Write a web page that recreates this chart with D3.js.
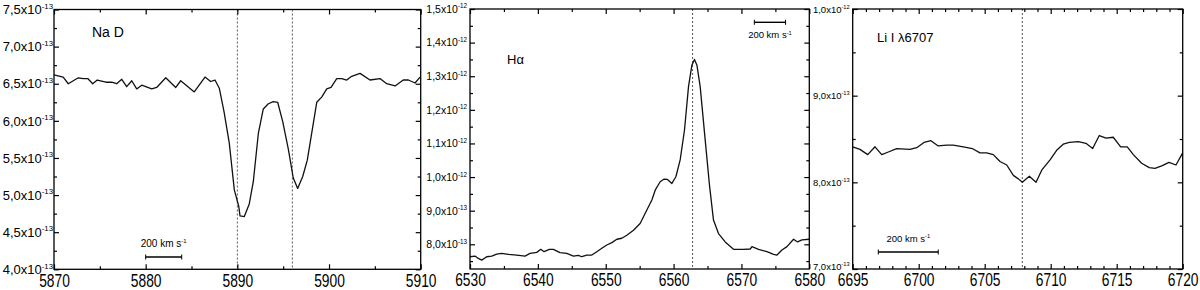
<!DOCTYPE html>
<html>
<head>
<meta charset="utf-8">
<script src="https://cdn.jsdelivr.net/npm/d3@7"></script>
<style>
  body { margin: 0; background: #fff; }
  svg { display: block; font-family: "Liberation Sans", Arial, sans-serif; }
</style>
</head>
<body>
<svg id="chart" width="1200" height="290"></svg>
<script>
// flux values are in units of 1e-13 (as on the y labels)

// Na D panel
const naWave = [5870.0, 5871.0, 5871.56, 5872.65, 5873.2, 5873.68, 5874.22, 5874.72, 5875.67, 5876.29,
  5876.84, 5877.39, 5877.93, 5878.48, 5879.02, 5879.57, 5880.66, 5881.2, 5882.19, 5883.28,
  5883.82, 5885.3, 5886.47, 5887.09, 5887.56, 5888.03, 5888.55, 5889.12, 5889.67, 5890.15,
  5890.29, 5890.76, 5891.3, 5891.74, 5892.29, 5892.83, 5893.38, 5893.92, 5894.4, 5894.95,
  5895.56, 5896.1, 5896.58, 5897.13, 5897.63, 5898.66, 5899.2, 5899.75, 5900.22, 5900.84,
  5901.38, 5901.93, 5902.47, 5903.38, 5904.47, 5905.56, 5906.29, 5907.2, 5908.1, 5908.65,
  5909.38, 5909.93];
const naFlux = [6.62, 6.59, 6.50, 6.58, 6.57, 6.57, 6.50, 6.55, 6.52, 6.52,
  6.50, 6.56, 6.46, 6.54, 6.43, 6.48, 6.43, 6.45, 6.58, 6.45,
  6.54, 6.39, 6.59, 6.53, 6.55, 6.44, 6.12, 5.70, 5.07, 4.85,
  4.72, 4.71, 4.88, 5.18, 5.83, 6.16, 6.23, 6.26, 6.25, 5.99,
  5.62, 5.23, 5.09, 5.25, 5.47, 6.25, 6.32, 6.43, 6.45, 6.57,
  6.57, 6.55, 6.60, 6.64, 6.55, 6.57, 6.50, 6.47, 6.55, 6.55,
  6.51, 6.59];
const naLines = [5890.0, 5896.0];
const naYTicks = [4.0, 4.5, 5.0, 5.5, 6.0, 6.5, 7.0, 7.5];
const naXTicks = [5870, 5880, 5890, 5900, 5910];

// H alpha panel
const haWave = [6530.0, 6530.74, 6531.22, 6531.73, 6532.46, 6533.2, 6533.94, 6534.68, 6535.65, 6536.89,
  6538.11, 6538.85, 6539.84, 6540.43, 6540.91, 6541.7, 6542.29, 6543.27, 6544.26, 6545.24,
  6545.97, 6546.47, 6547.21, 6547.95, 6548.69, 6549.42, 6550.16, 6550.9, 6551.64, 6552.37,
  6553.11, 6554.09, 6555.07, 6556.06, 6556.8, 6557.29, 6558.02, 6558.61, 6559.1, 6559.75,
  6560.34, 6560.97, 6561.61, 6562.2, 6562.7, 6563.08, 6563.44, 6563.92, 6564.66, 6565.29,
  6565.88, 6566.62, 6567.61, 6568.83, 6570.31, 6571.3, 6571.55, 6572.52, 6573.76, 6574.73,
  6575.24, 6575.97, 6576.71, 6577.68, 6578.27, 6578.92, 6580.0];
const haFlux = [7.63, 7.65, 7.58, 7.53, 7.63, 7.65, 7.71, 7.73, 7.70, 7.68,
  7.65, 7.73, 7.76, 7.85, 7.78, 7.85, 7.85, 7.75, 7.73, 7.65,
  7.67, 7.63, 7.68, 7.68, 7.78, 7.88, 7.98, 8.05, 8.15, 8.18,
  8.27, 8.42, 8.62, 9.02, 9.32, 9.61, 9.86, 9.94, 9.93, 9.81,
  10.01, 10.51, 11.40, 12.69, 13.33, 13.50, 13.33, 12.69, 11.10, 9.76,
  8.72, 8.32, 8.07, 7.85, 7.85, 7.86, 7.93, 7.85, 7.78, 7.70,
  7.68, 7.83, 7.93, 8.15, 8.07, 8.13, 8.15];
const haLines = [6562.8];
const haYTicks = [8, 9, 10, 11, 12, 13, 14, 15];
const haXTicks = [6530, 6540, 6550, 6560, 6570, 6580];

// Li I 6707 panel
const liWave = [6695.0, 6695.55, 6696.14, 6696.69, 6697.2, 6697.7, 6698.33, 6699.34, 6699.85, 6700.4,
  6700.93, 6701.48, 6702.12, 6702.62, 6703.38, 6704.06, 6704.64, 6705.15, 6705.65, 6706.16,
  6706.67, 6707.17, 6707.55, 6707.85, 6708.38, 6708.89, 6709.32, 6709.95, 6710.45, 6710.95,
  6711.41, 6712.09, 6712.67, 6713.18, 6713.68, 6714.19, 6714.74, 6715.3, 6715.8, 6716.26,
  6716.89, 6717.47, 6717.9, 6718.41, 6718.96, 6719.49, 6720.0];
const liFlux = [8.41, 8.38, 8.32, 8.41, 8.32, 8.35, 8.39, 8.38, 8.40, 8.46,
  8.48, 8.42, 8.43, 8.43, 8.41, 8.39, 8.34, 8.34, 8.32, 8.24,
  8.20, 8.08, 8.04, 8.00, 8.07, 8.00, 8.14, 8.26, 8.37, 8.44,
  8.46, 8.47, 8.45, 8.39, 8.54, 8.51, 8.52, 8.41, 8.41, 8.32,
  8.22, 8.17, 8.16, 8.19, 8.23, 8.20, 8.34];
const liLines = [6707.85];
const liYTicks = [7, 8, 9, 10];
const liXTicks = [6695, 6700, 6705, 6710, 6715, 6720];

const svg = d3.select("#chart");

const panels = [
  { wave: naWave, flux: naFlux, lines: naLines, yTicks: naYTicks, xTicks: naXTicks,
    xDom: [5870, 5910], yDom: [4.0, 7.5], xMinor: 5, yMinor: 0.25,
    box: [54, 420.7, 9.5, 269.3], yFont: 13, yPad: 1, lowShift: 0,
    label: "Na D", labelPos: [92, 37], labelSize: 14,
    bar: [5880, 5883.93], barY: 257, barText: "above", barFont: 10 },
  { wave: haWave, flux: haFlux, lines: haLines, yTicks: haYTicks, xTicks: haXTicks,
    xDom: [6530, 6580], yDom: [7.265, 15], xMinor: 5, yMinor: 0.5,
    box: [470, 809.3, 9, 269], yFont: 10.5, yPad: 3, lowShift: 0,
    label: "H\u03b1", labelPos: [507, 64], labelSize: 13,
    bar: [6571.9, 6576.5], barY: 22.3, barText: "below", barFont: 9.5 },
  { wave: liWave, flux: liFlux, lines: liLines, yTicks: liYTicks, xTicks: liXTicks,
    xDom: [6695, 6720], yDom: [7, 10], xMinor: 1, yMinor: 0.5,
    box: [852.7, 1182.7, 9, 269], yFont: 9.5, yPad: 3, lowShift: 2.5,
    label: "Li I \u03bb6707", labelPos: [877, 41.5], labelSize: 13,
    bar: [6696.94, 6701.48], barY: 252, barText: "above", barFont: 9.5 }
];

function minorTicks(dom, step, majors) {
  const out = [];
  const start = Math.ceil(dom[0] / step - 1e-9) * step;
  for (let v = start; v <= dom[1] + 1e-9; v += step) {
    const r = Math.round(v * 1000) / 1000;
    if (!majors.some(m => Math.abs(m - r) < 1e-6)) out.push(r);
  }
  return out;
}

const xStretch = 1.33; // tick labels are taller than wide in the source

panels.forEach(p => {
  const [x0, x1, y0, y1] = p.box;
  const x = d3.scaleLinear().domain(p.xDom).range([x0, x1]);
  const y = d3.scaleLinear().domain(p.yDom).range([y1, y0]);
  const g = svg.append("g");

  const xMin = minorTicks(p.xDom, p.xMinor, p.xTicks);
  const yMin = minorTicks(p.yDom, p.yMinor, p.yTicks);

  // dashed rest wavelengths
  g.selectAll("line.rest").data(p.lines).join("line")
    .attr("x1", d => x(d)).attr("x2", d => x(d))
    .attr("y1", y0).attr("y2", y1)
    .attr("stroke", "#555").attr("stroke-width", 1)
    .attr("stroke-dasharray", "2,2");

  // spectrum
  const pts = p.wave.map((w, i) => [w, p.flux[i]]);
  g.append("path").datum(pts)
    .attr("fill", "none").attr("stroke", "#111").attr("stroke-width", 1.3)
    .attr("stroke-linejoin", "round")
    .attr("d", d3.line().x(d => x(d[0])).y(d => y(d[1])));

  // bottom axis
  const xb = g.append("g").attr("transform", `translate(0,${y1})`)
    .call(d3.axisBottom(x).tickValues(p.xTicks).tickSize(-5).tickPadding(5).tickFormat(d3.format("d")));
  xb.selectAll("text").attr("font-size", 13.8).attr("fill", "#000")
    .attr("dy", "0.71em").attr("y", 4.3 / xStretch)
    .attr("transform", `scale(1,${xStretch})`);
  g.append("g").attr("transform", `translate(0,${y1})`)
    .call(d3.axisBottom(x).tickValues(xMin).tickSize(-3).tickFormat(""));
  // top axis
  g.append("g").attr("transform", `translate(0,${y0})`)
    .call(d3.axisTop(x).tickValues(p.xTicks).tickSize(-5).tickFormat(""));
  g.append("g").attr("transform", `translate(0,${y0})`)
    .call(d3.axisTop(x).tickValues(xMin).tickSize(-3).tickFormat(""));

  // left axis with labels
  const yl = g.append("g").attr("transform", `translate(${x0},0)`)
    .call(d3.axisLeft(y).tickValues(p.yTicks).tickSize(-5).tickPadding(p.yPad));
  yl.selectAll("text").attr("fill", "#000").attr("font-size", p.yFont)
    .each(function(d) {
      const t = d3.select(this).text(null);
      if (d === p.yDom[0]) t.attr("y", -p.lowShift);
      const big = d >= 10;
      const mant = (big ? d / 10 : d).toFixed(1).replace(".", ",");
      t.append("tspan").text(mant + "x10");
      t.append("tspan").attr("dy", -p.yFont * 0.42).attr("font-size", p.yFont * 0.6)
        .text(big ? "-12" : "-13");
    });
  g.append("g").attr("transform", `translate(${x0},0)`)
    .call(d3.axisLeft(y).tickValues(yMin).tickSize(-3).tickFormat(""));
  // right axis
  g.append("g").attr("transform", `translate(${x1},0)`)
    .call(d3.axisRight(y).tickValues(p.yTicks).tickSize(-5).tickFormat(""));
  g.append("g").attr("transform", `translate(${x1},0)`)
    .call(d3.axisRight(y).tickValues(yMin).tickSize(-3).tickFormat(""));

  g.selectAll(".domain").remove();
  g.selectAll(".tick line").attr("stroke", "#000").attr("stroke-width", 1.2);

  // frame
  g.append("rect").attr("x", x0).attr("y", y0)
    .attr("width", x1 - x0).attr("height", y1 - y0)
    .attr("fill", "none").attr("stroke", "#000").attr("stroke-width", 1.3);

  // line label
  g.append("text").attr("x", p.labelPos[0]).attr("y", p.labelPos[1])
    .attr("font-size", p.labelSize).attr("fill", "#000").text(p.label);

  // velocity scale bar
  const bx0 = x(p.bar[0]), bx1 = x(p.bar[1]);
  const bar = g.append("g").attr("stroke", "#000").attr("stroke-width", 1.4);
  bar.append("line").attr("x1", bx0).attr("x2", bx1).attr("y1", p.barY).attr("y2", p.barY);
  bar.selectAll("line.cap").data([bx0, bx1]).join("line")
    .attr("x1", d => d).attr("x2", d => d)
    .attr("y1", p.barY - 2.5).attr("y2", p.barY + 2.5).attr("stroke-width", 1);
  const bt = g.append("text")
    .attr("x", (bx0 + bx1) / 2)
    .attr("y", p.barText === "above" ? p.barY - 10 : p.barY + 16)
    .attr("text-anchor", "middle").attr("font-size", p.barFont).attr("fill", "#000");
  bt.append("tspan").text("200 km s");
  bt.append("tspan").attr("dy", -p.barFont * 0.4).attr("font-size", p.barFont * 0.6).text("-1");
});
</script>
</body>
</html>
